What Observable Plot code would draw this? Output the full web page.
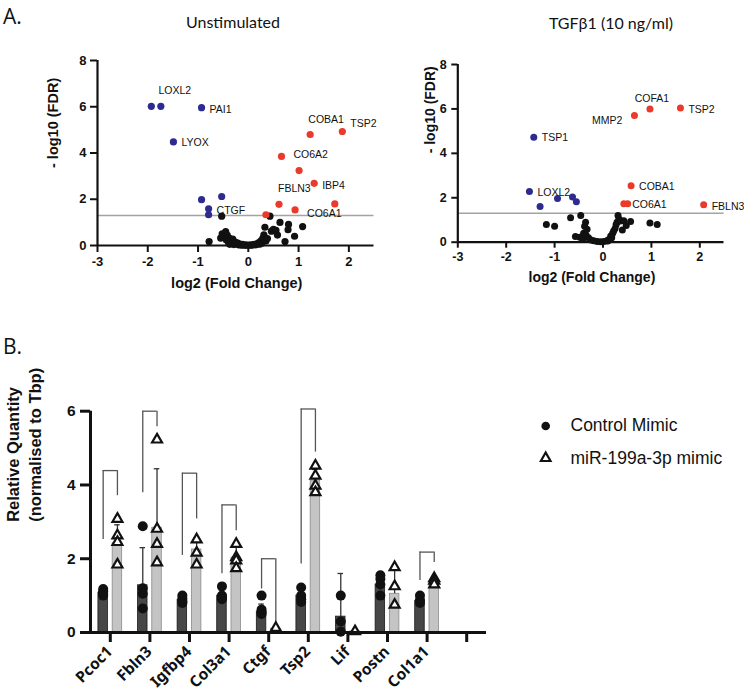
<!DOCTYPE html>
<html><head><meta charset="utf-8">
<script src="https://cdn.jsdelivr.net/npm/d3@7"></script>
<script src="https://cdn.jsdelivr.net/npm/@observablehq/plot@0.6"></script>
<style>
html,body{margin:0;padding:0;background:#fff;}
#root{position:relative;width:744px;height:696px;overflow:hidden;font-family:"Liberation Sans",Arial,sans-serif;color:#111;}
#root svg{position:absolute;overflow:visible;}
</style></head><body><div id="root"></div>
<script>
// ---------------- Panel A data ----------------
const unstimDown = [[-1.93,6.02],[-1.74,6.02],[-0.93,5.96],[-1.49,4.48],[-0.93,1.98],[-0.53,2.12],[-0.79,1.59],[-0.79,1.33]];
const unstimDownLabels = ["","LOXL2","PAI1","LYOX","","","CTGF",""];
const unstimUp = [[1.87,4.93],[1.23,4.80],[0.66,3.85],[1.01,3.24],[1.31,2.69],[0.61,1.78],[1.72,1.80],[0.93,1.54],[0.35,1.33]];
const unstimUpLabels = ["TSP2","COBA1","CO6A2","","IBP4","FBLN3","","CO6A1",""];
const unstimNS = [[-0.78,0.17],[-0.53,1.27],[-0.55,0.32],[-0.52,0.5],[-0.48,0.38],[-0.45,0.6],[-0.44,0.25],[-0.42,0.45],[-0.40,0.15],[-0.38,0.32],[-0.37,0.05],[-0.35,0.22],[-0.33,0.1],[-0.31,0.28],[-0.29,0.04],[-0.27,0.16],[-0.25,0.08],[-0.22,0.12],[-0.2,0.03],[-0.18,0.07],[-0.15,0.02],[-0.12,0.05],[-0.09,0.01],[-0.06,0.03],[-0.03,0.01],[0.0,0.02],[0.03,0.01],[0.06,0.03],[0.09,0.02],[0.12,0.05],[0.15,0.03],[0.18,0.07],[0.2,0.12],[0.23,0.06],[0.25,0.2],[0.27,0.1],[0.29,0.32],[0.31,0.46],[0.33,0.79],[0.35,0.2],[0.38,0.3],[0.43,1.27],[0.46,0.62],[0.5,0.7],[0.55,0.66],[0.58,0.45],[0.63,1.0],[0.73,0.17],[0.79,0.68],[0.8,0.91],[0.92,0.4],[1.08,0.82]];

const tgfDown = [[-1.43,4.73],[-1.52,2.28],[-1.30,1.61],[-0.94,1.97],[-0.63,2.04],[-0.55,1.82]];
const tgfDownLabels = ["TSP1","LOXL2","","","",""];
const tgfUp = [[0.97,6.00],[1.60,6.04],[0.65,5.70],[0.58,2.54],[0.43,1.73],[0.51,1.73],[2.08,1.69]];
const tgfUpLabels = ["COFA1","TSP2","MMP2","COBA1","","CO6A1","FBLN3"];
const tgfNS = [[-1.17,0.8],[-1.0,0.72],[-0.67,1.1],[-0.46,1.2],[-0.36,0.9],[-0.38,0.72],[-0.33,0.58],[-0.40,0.4],[-0.35,0.32],[-0.57,0.26],[-0.48,0.22],[-0.42,0.12],[-0.3,0.2],[-0.25,0.1],[-0.19,0.07],[-0.12,0.03],[-0.05,0.02],[0.02,0.03],[0.08,0.06],[0.1,0.05],[0.12,0.12],[0.16,0.28],[0.18,0.2],[0.2,0.4],[0.22,0.5],[0.25,0.62],[0.27,0.78],[0.29,0.9],[0.31,1.2],[0.33,1.05],[0.36,0.96],[0.43,0.97],[0.4,0.55],[0.48,0.75],[0.57,0.93],[0.97,0.87],[1.12,0.8]];

const xTicksA = [-3,-2,-1,0,1,2];
const yTicksA = [0,2,4,6,8];
const fdrThreshold = 1.3;

// ---------------- Panel B data ----------------
const genes = ["Pcoc1","Fbln3","Igfbp4","Col3a1","Ctgf","Tsp2","Lif","Postn","Col1a1"];
const xCats = [...genes, ""];
const ctrlMean = [1.08, 1.28, 0.88, 1.0, 0.57, 1.0, 0.43, 1.3, 0.86];
const ctrlSD   = [0.08, 1.02, 0.1, 0.15, 0.2, 0.15, 1.17, 0.25, 0.1];
const mimicMean = [2.42, 2.84, 2.25, 2.03, 0.1, 4.12, 0.03, 1.05, 1.35];
const mimicSD   = [0.5, 1.6, 0.3, 0.3, 0.02, 0.3, 0.02, 0.72, 0.08];
const ctrlDots = [[1.18,1.12,1.06,1.0],[2.88,1.2,1.05,0.65],[1.0,0.92,0.85,0.8],[1.25,1.0,0.95,0.9],[1.0,0.62,0.55,0.5],[1.22,1.0,0.9,0.83],[1.0,0.3,0.02],[1.55,1.45,1.3,1.0],[1.0,0.88,0.8]];
const mimicDots = [[3.08,2.63,2.45,1.84],[5.23,2.81,2.4,1.9],[2.52,2.16,1.84],[2.4,2.04,1.95,1.74],[0.12],[4.52,4.25,3.98,3.8],[0.03],[1.77,1.25,0.75],[1.47,1.4,1.3]];
const bracketGenes = ["Pcoc1","Fbln3","Igfbp4","Col3a1","Ctgf","Tsp2","Col1a1"];
const bracketLeft  = [2.52, 3.79, 2.09, 1.59, 1.18, 1.86, 1.41];
const bracketTop   = [4.39, 6.0, 4.32, 3.46, 2.0, 6.06, 2.18];
const bracketRight = [3.71, 5.58, 3.08, 2.76, 0.24, 4.89, 1.9];
const yTicksB = [0,2,4,6];

// ---------------- helpers ----------------
const root = document.getElementById("root");
const FF = "Liberation Sans";
const blue = "#2d2b8f", red = "#ea3a2c";

function addText(txt, x, y, style, anchor) {
  const d = document.createElement("div");
  d.textContent = txt;
  const tx = anchor === "middle" ? "-50%" : "0";
  d.style.cssText = `position:absolute;left:${x}px;top:${y}px;white-space:nowrap;line-height:1;transform:translate(${tx},-50%);${style}`;
  root.appendChild(d);
}
function place(svg, left, top) { svg.style.left = left + "px"; svg.style.top = top + "px"; root.appendChild(svg); }

function volcano(cfg) {
  const toObj = (arr, labels) => arr.map(([x, y], i) => ({x, y, label: labels ? labels[i] : ""}));
  const down = toObj(cfg.down, cfg.downLabels), up = toObj(cfg.up, cfg.upLabels), ns = toObj(cfg.ns);
  const labelMarks = [...down, ...up].filter(d => d.label).map(d => {
    const o = cfg.offsets[d.label];
    return Plot.text([d], {x: "x", y: "y", text: "label", dx: o[0], dy: o[1], textAnchor: o[2] || "start",
      fontSize: 10.5, fontFamily: FF, fill: "#111"});
  });
  return Plot.plot({
    width: cfg.width, height: cfg.height,
    marginLeft: cfg.ml, marginRight: cfg.mr, marginTop: cfg.mt, marginBottom: cfg.mb,
    x: {domain: [-3, 2.5], label: null, axis: null},
    y: {domain: [0, 8], label: null, axis: null},
    marks: [
      Plot.ruleY([fdrThreshold], {stroke: "#a3a3a3", strokeWidth: 1.6}),
      Plot.dot(ns, {x: "x", y: "y", r: cfg.r, fill: "#111"}),
      Plot.dot(down, {x: "x", y: "y", r: cfg.r, fill: blue}),
      Plot.dot(up, {x: "x", y: "y", r: cfg.r, fill: red}),
      ...labelMarks,
      Plot.ruleX([-3], {stroke: "#111", strokeWidth: 2.2}),
      Plot.ruleY([0], {stroke: "#111", strokeWidth: 2.2}),
      Plot.axisX({ticks: xTicksA, tickFormat: d => String(d), label: null, tickSize: cfg.ts, tickPadding: cfg.tpx, fontSize: cfg.fs, fontFamily: FF, fontWeight: "bold", strokeWidth: 2, stroke: "#111", fill: "#111"}),
      Plot.axisY({ticks: yTicksA, tickFormat: d => String(d), label: null, tickSize: cfg.ts, tickPadding: cfg.tpy, fontSize: cfg.fs, fontFamily: FF, fontWeight: "bold", strokeWidth: 2, stroke: "#111", fill: "#111"}),
      Plot.text(["- log10 (FDR)"], {frameAnchor: "left", dx: cfg.ylx, dy: cfg.yly, rotate: -90, fontSize: cfg.lfs, fontFamily: FF, fontWeight: "bold", fill: "#111"}),
      Plot.text(["log2 (Fold Change)"], {frameAnchor: "bottom", dx: 1, dy: cfg.xly, fontSize: cfg.lfs, fontFamily: FF, fontWeight: "bold", fill: "#111"})
    ]
  });
}

// ---------------- Panel A ----------------
const vA = volcano({
  down: unstimDown, downLabels: unstimDownLabels, up: unstimUp, upLabels: unstimUpLabels, ns: unstimNS,
  offsets: {LOXL2: [14, -16, "middle"], PAI1: [8, 2], LYOX: [8, 1], CTGF: [8, 2], TSP2: [8, -8], COBA1: [16, -15, "middle"],
            CO6A2: [12, -2], IBP4: [8, 2], FBLN3: [-1, -16], CO6A1: [12, 4]},
  width: 390, height: 300, ml: 97, mr: 16.5, mt: 60, mb: 55, r: 3.6,
  ts: 7, tpx: 4, tpy: 4, fs: 13, lfs: 14.5, ylx: -44, yly: 15, xly: 42
});
place(vA, 0, 0);

const vB = volcano({
  down: tgfDown, downLabels: tgfDownLabels, up: tgfUp, upLabels: tgfUpLabels, ns: tgfNS,
  offsets: {TSP1: [8, 0], LOXL2: [8, 1], COFA1: [2, -10, "middle"], TSP2: [8, 2], MMP2: [-12, 5, "end"],
            COBA1: [8, 1], CO6A1: [4.5, 1], FBLN3: [8, 2]},
  width: 354, height: 300, ml: 67.3, mr: 20.5, mt: 64, mb: 58.3, r: 3.5,
  ts: 6, tpx: 4, tpy: 5, fs: 12.5, lfs: 14, ylx: -27, yly: 0, xly: 40
});
place(vB, 390, 0);

// ---------------- Panel B ----------------
const off = 0.18, hb = 0.12;
const ctrl = genes.map((g, i) => ({g, p: i + 1, mean: ctrlMean[i], sd: ctrlSD[i]}));
const mim = genes.map((g, i) => ({g, p: i + 1, mean: mimicMean[i], sd: mimicSD[i]}));
const cDots = genes.flatMap((g, i) => ctrlDots[i].map(v => ({p: i + 1, v})));
const mDots = genes.flatMap((g, i) => mimicDots[i].map(v => ({p: i + 1, v})));
const brackets = bracketGenes.map((g, j) => ({p: genes.indexOf(g) + 1, l: bracketLeft[j], t: bracketTop[j], r: bracketRight[j]}));
const tickLabels = genes.map((g, i) => ({p: i + 1, g}));

const barPlot = Plot.plot({
  width: 500, height: 356, marginLeft: 90, marginRight: 14, marginTop: 70.7, marginBottom: 64,
  x: {domain: [0.5, xCats.length + 0.5], label: null, axis: null},
  y: {domain: [0, 6], label: null, axis: null},
  marks: [
    Plot.rectY(ctrl, {x1: d => d.p - off - hb, x2: d => d.p - off + hb, y1: 0, y2: "mean", fill: "#474747", stroke: "#1a1a1a", strokeWidth: 0.8}),
    Plot.rectY(mim, {x1: d => d.p + off - hb, x2: d => d.p + off + hb, y1: 0, y2: "mean", fill: "#c4c4c4", stroke: "#8a8a8a", strokeWidth: 0.8}),
    Plot.ruleX(ctrl, {x: d => d.p - off, y1: "mean", y2: d => d.mean + d.sd, stroke: "#333", strokeWidth: 1.3}),
    Plot.ruleY(ctrl, {y: d => d.mean + d.sd, x1: d => d.p - off - 0.07, x2: d => d.p - off + 0.07, stroke: "#333", strokeWidth: 1.3}),
    Plot.ruleX(mim, {x: d => d.p + off, y1: "mean", y2: d => d.mean + d.sd, stroke: "#333", strokeWidth: 1.3}),
    Plot.ruleY(mim, {y: d => d.mean + d.sd, x1: d => d.p + off - 0.07, x2: d => d.p + off + 0.07, stroke: "#333", strokeWidth: 1.3}),
    Plot.ruleX(brackets, {x: d => d.p - off, y1: "l", y2: "t", stroke: "#555", strokeWidth: 1.3}),
    Plot.ruleX(brackets, {x: d => d.p + off, y1: "r", y2: "t", stroke: "#555", strokeWidth: 1.3}),
    Plot.ruleY(brackets, {y: "t", x1: d => d.p - off, x2: d => d.p + off, stroke: "#555", strokeWidth: 1.3}),
    Plot.dot(cDots, {x: d => d.p - off, y: "v", r: 5, fill: "#111"}),
    Plot.dot(mDots, {x: d => d.p + off, y: "v", r: 3.7, symbol: "triangle", fill: "#fff", stroke: "#111", strokeWidth: 2.2}),
    Plot.ruleX([0.5], {y1: 0, y2: 6, stroke: "#111", strokeWidth: 3}),
    Plot.ruleY([0], {stroke: "#111", strokeWidth: 3}),
    Plot.axisY({ticks: yTicksB, tickFormat: d => String(d), label: null, tickSize: 10, tickPadding: 5, fontSize: 15.5, fontFamily: FF, fontWeight: "bold", strokeWidth: 3, stroke: "#111", fill: "#111"}),
    Plot.axisX({ticks: d3.range(1, xCats.length + 1), label: null, tickSize: 10, strokeWidth: 3, stroke: "#111", fill: "none"}),
    Plot.text(tickLabels, {x: "p", text: "g", frameAnchor: "bottom", dx: 3, dy: 20, rotate: -45, textAnchor: "end",
      fontSize: 15.5, fontWeight: "bold"}),
    Plot.text(["Relative Quantity\n(normalised to Tbp)"], {frameAnchor: "left", dx: -68, dy: 0, rotate: -90, fontSize: 16.5, fontFamily: FF, fontWeight: "bold", lineHeight: 1.35, fill: "#111"})
  ]
});
place(barPlot, 0, 340);

// ---------------- texts ----------------
addText("A.", 3, 16, "font-family:'Open Sans',sans-serif;font-size:21px;");
addText("B.", 3, 346, "font-family:'Open Sans',sans-serif;font-size:21px;");
addText("Unstimulated", 233, 22, "font-family:Lato,sans-serif;font-size:16px;", "middle");
addText("TGFβ1 (10 ng/ml)", 611, 23, "font-family:Lato,sans-serif;font-size:16px;", "middle");

// legend
const leg = document.createElement("div");
leg.style.cssText = "position:absolute;left:536px;top:414px;";
leg.innerHTML = `<svg width="20" height="60" style="position:absolute;left:0;top:0;overflow:visible">
<circle cx="9.7" cy="12" r="4.3" fill="#111"/>
<path d="M9.7,38.5 L14.5,47 L4.9,47 Z" fill="#fff" stroke="#111" stroke-width="2.2" stroke-linejoin="miter"/></svg>`;
root.appendChild(leg);
addText("Control Mimic", 570.5, 426, "font-size:17.5px;");
addText("miR-199a-3p mimic", 570.5, 458.5, "font-size:17.5px;");
</script></body></html>
